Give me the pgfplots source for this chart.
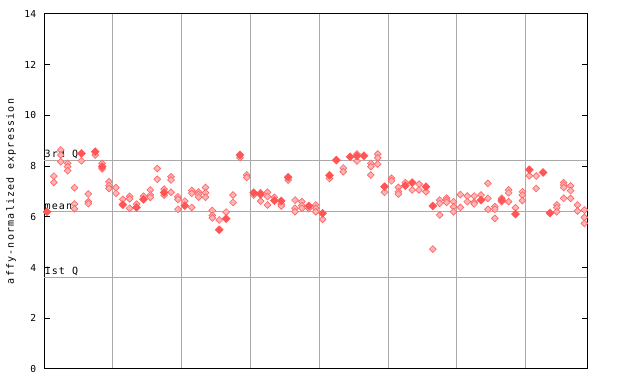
\documentclass[border=0pt]{standalone}
\usepackage{fontspec}
\setmainfont{DejaVu Sans Mono}
\newfontfamily\labfont[LetterSpace=12]{DejaVu Sans Mono}
\usepackage{pgfplots}
\pgfplotsset{compat=1.18}
\definecolor{solidred}{RGB}{255,85,85}
\definecolor{hollowfill}{RGB}{255,180,180}
\definecolor{hollowdraw}{RGB}{255,100,100}
\definecolor{gridgray}{RGB}{170,170,170}
\begin{document}
\begin{tikzpicture}
\useasboundingbox (0,0) rectangle (480pt,288pt);
\begin{axis}[
  scale only axis, width=407.25pt, height=266.25pt,
  at={(33.225pt,11.25pt)}, anchor=south west,
  xmin=-0.39, xmax=78.42, ymin=0, ymax=14,
  xtick={9.5,19.5,29.5,39.5,49.5,59.5,69.5}, xticklabels={},
  xmajorgrids, major grid style={gridgray, line width=0.75pt},
  x tick style={draw=none},
  ytick={0,2,...,14}, ytick pos=both, tick align=inside,
  major tick length=4pt,
  y tick style={black, line width=0.75pt},
  axis line style={black, line width=0.75pt},
  /pgf/number format/assume math mode=true,
  yticklabel style={font=\fontsize{7.2pt}{8pt}\selectfont, inner sep=0pt, xshift=-6pt},
  clip=false,
]
% quartile lines
\addplot[gridgray, line width=0.75pt, forget plot] coordinates {(-0.39,8.23) (78.42,8.23)};
\addplot[gridgray, line width=0.75pt, forget plot] coordinates {(-0.39,6.22) (78.42,6.22)};
\addplot[gridgray, line width=0.75pt, forget plot] coordinates {(-0.39,3.62) (78.42,3.62)};
\node[anchor=south west, inner sep=0pt, yshift=0.9pt, font=\labfont\fontsize{7.5pt}{8pt}\selectfont] at (axis cs:-0.39,8.23) {3rd Q};
\node[anchor=south west, inner sep=0pt, yshift=0.9pt, font=\labfont\fontsize{7.5pt}{8pt}\selectfont] at (axis cs:-0.39,6.22) {mean};
\node[anchor=south west, inner sep=0pt, yshift=0.9pt, font=\labfont\fontsize{7.5pt}{8pt}\selectfont] at (axis cs:-0.39,3.62) {1st Q};
% hollow (patterned) diamonds
\addplot[only marks, mark=square*, mark size=1.8pt, mark options={rotate=45, draw=hollowdraw, fill=hollowfill, line width=0.5pt}] table {
x y
1 7.61
1 7.36
2 8.64
2 8.44
2 8.17
3 8.11
3 7.98
3 7.82
4 7.15
4 6.51
4 6.32
5 8.21
6 6.90
6 6.60
6 6.52
7 8.44
8 8.11
8 7.89
9 7.38
9 7.23
9 7.12
10 7.15
10 6.93
11 6.69
12 6.81
12 6.71
12 6.34
13 6.50
14 6.81
15 7.06
15 6.86
15 6.77
16 7.91
16 7.48
17 7.09
17 6.86
18 7.58
18 7.45
18 6.97
19 6.79
19 6.69
19 6.30
20 6.62
21 7.04
21 6.93
21 6.37
22 6.98
22 6.88
22 6.78
23 7.16
23 6.95
23 6.77
24 6.25
24 6.06
24 5.96
25 5.88
26 6.19
27 6.86
27 6.57
28 8.33
29 7.65
29 7.55
30 6.86
31 6.95
31 6.62
32 6.97
32 6.80
32 6.47
33 6.77
34 6.51
34 6.43
35 7.45
36 6.66
36 6.34
36 6.20
37 6.60
37 6.44
37 6.34
38 6.33
39 6.47
39 6.34
39 6.20
40 5.90
41 7.51
43 7.93
43 7.78
45 8.48
45 8.20
47 8.11
47 7.98
47 7.65
48 8.48
48 8.33
48 8.08
49 6.97
50 7.52
50 7.42
51 7.16
51 6.99
51 6.90
52 7.35
53 7.06
54 7.29
54 7.06
55 6.99
56 4.73
57 6.66
57 6.53
57 6.07
58 6.74
58 6.66
58 6.57
59 6.60
59 6.40
59 6.20
60 6.88
60 6.37
61 6.82
61 6.60
62 6.82
62 6.58
62 6.51
63 6.86
64 7.32
64 6.73
64 6.30
65 6.40
65 6.30
65 5.94
66 6.73
66 6.60
67 7.06
67 6.95
67 6.60
68 6.36
69 6.99
69 6.86
69 6.64
70 7.62
71 7.61
71 7.12
74 6.47
74 6.36
74 6.20
75 7.35
75 7.26
75 7.16
75 6.73
76 7.22
76 7.03
76 6.73
77 6.47
77 6.23
78 6.27
78 5.98
78 5.74
};
% solid diamonds
\addplot[only marks, mark=square*, mark size=2.1pt, mark options={rotate=45, draw=solidred, fill=solidred, line width=0.4pt}] table {
x y
0 6.20
5 8.50
7 8.57
8 7.98
11 6.48
13 6.37
14 6.69
17 6.96
20 6.44
25 5.49
26 5.93
28 8.44
30 6.95
31 6.89
33 6.64
34 6.63
35 7.56
38 6.43
40 6.14
41 7.64
42 8.24
44 8.37
45 8.40
46 8.41
49 7.19
52 7.23
53 7.35
55 7.19
56 6.43
63 6.66
66 6.66
68 6.11
70 7.86
72 7.75
73 6.15
};
\end{axis}
\node[rotate=90, inner sep=0pt, font=\labfont\fontsize{7.5pt}{8pt}\selectfont] at (8.25pt,144.4pt) {affy-normalized expression};
\end{tikzpicture}
\end{document}
